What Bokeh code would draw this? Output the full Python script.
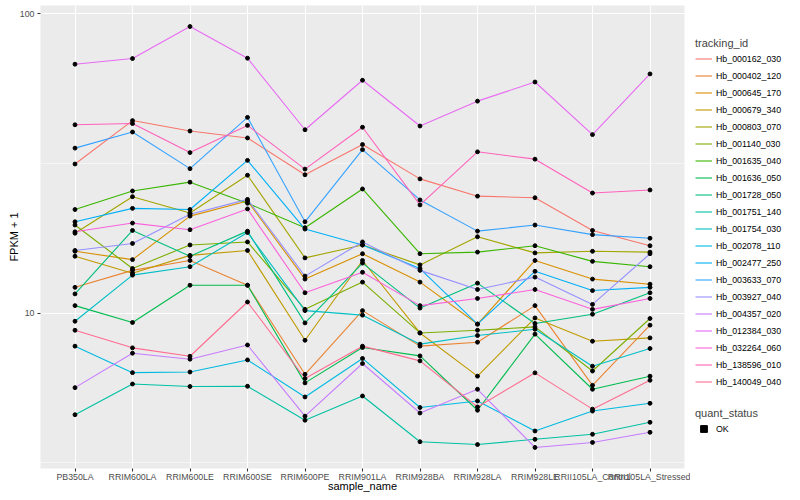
import numpy as np
from bokeh.plotting import figure
from bokeh.models import (FactorRange, Range1d, FixedTicker, Legend, LegendItem)
from bokeh.layouts import row
from bokeh.embed import file_html
from bokeh.resources import INLINE

# ---------------- data (FPKM + 1) ----------------
samples = ["PB350LA", "RRIM600LA", "RRIM600LE", "RRIM600SE", "RRIM600PE",
           "RRIM901LA", "RRIM928BA", "RRIM928LA", "RRIM928LE",
           "RRII105LA_Control", "RRII105LA_Stressed"]

tracking_ids = ["Hb_000162_030", "Hb_000402_120", "Hb_000645_170", "Hb_000679_340",
                "Hb_000803_070", "Hb_001140_030", "Hb_001635_040", "Hb_001636_050",
                "Hb_001728_050", "Hb_001751_140", "Hb_001754_030", "Hb_002078_110",
                "Hb_002477_250", "Hb_003633_070", "Hb_003927_040", "Hb_004357_020",
                "Hb_012384_030", "Hb_032264_060", "Hb_138596_010", "Hb_140049_040"]

Hb_000162_030 = [31.5, 44.0, 40.6, 38.5, 29.0, 36.6, 28.1, 24.6, 24.3, 18.9, 16.8]
Hb_000402_120 = [12.2, 13.9, 15.0, 12.4, 6.25, 10.2, 7.76, 8.0, 10.6, 5.74, 9.12]
Hb_000645_170 = [16.1, 15.1, 21.1, 23.7, 13.0, 15.8, 12.7, 9.2, 15.0, 13.0, 12.5]
Hb_000679_340 = [15.5, 13.6, 15.6, 16.2, 8.12, 15.0, 8.59, 6.16, 9.64, 8.06, 8.27]
Hb_000803_070 = [18.5, 24.5, 21.6, 28.9, 15.3, 16.9, 14.5, 18.0, 15.9, 16.1, 16.0]
Hb_001140_030 = [19.7, 14.1, 16.9, 17.3, 10.3, 12.7, 8.59, 8.77, 9.0, 6.41, 9.6]
Hb_001635_040 = [22.2, 25.6, 27.4, 23.3, 19.3, 26.0, 15.8, 16.0, 16.8, 14.9, 14.3]
Hb_001636_050 = [10.6, 9.31, 12.4, 12.4, 5.85, 7.68, 7.20, 4.74, 8.51, 5.57, 6.16]
Hb_001728_050 = [11.6, 18.9, 15.5, 18.8, 9.28, 14.7, 10.4, 12.6, 9.24, 9.92, 11.7]
Hb_001751_140 = [4.58, 5.80, 5.69, 5.70, 4.39, 5.29, 3.72, 3.64, 3.79, 3.94, 4.32]
Hb_001754_030 = [9.40, 13.4, 14.3, 18.6, 10.2, 9.85, 7.88, 8.42, 8.84, 6.65, 7.62]
Hb_002078_110 = [7.76, 6.33, 6.36, 6.98, 5.25, 7.06, 4.84, 5.09, 4.04, 4.71, 5.0]
Hb_002477_250 = [20.2, 22.4, 22.2, 32.4, 19.1, 16.9, 14.1, 9.19, 13.8, 11.9, 12.2]
Hb_003633_070 = [35.6, 40.3, 30.4, 45.1, 20.2, 35.2, 23.9, 18.8, 19.7, 18.3, 17.8]
Hb_003927_040 = [16.2, 17.1, 21.4, 24.0, 13.3, 17.3, 13.9, 12.0, 13.2, 10.7, 15.8]
Hb_004357_020 = [5.64, 7.35, 7.02, 7.83, 4.53, 6.79, 4.64, 5.57, 3.56, 3.70, 4.0]
Hb_012384_030 = [67.9, 70.9, 90.7, 71.1, 41.0, 60.0, 42.2, 51.1, 59.2, 39.5, 63.0]
Hb_032264_060 = [18.7, 20.0, 19.0, 22.3, 11.7, 13.7, 10.6, 11.2, 12.0, 10.3, 11.2]
Hb_138596_010 = [42.6, 43.0, 34.4, 42.4, 30.3, 41.8, 23.0, 34.6, 32.7, 25.2, 25.8]
Hb_140049_040 = [8.77, 7.66, 7.18, 10.9, 6.05, 7.76, 6.93, 4.86, 6.32, 4.78, 5.97]

series = [Hb_000162_030, Hb_000402_120, Hb_000645_170, Hb_000679_340, Hb_000803_070,
          Hb_001140_030, Hb_001635_040, Hb_001636_050, Hb_001728_050, Hb_001751_140,
          Hb_001754_030, Hb_002078_110, Hb_002477_250, Hb_003633_070, Hb_003927_040,
          Hb_004357_020, Hb_012384_030, Hb_032264_060, Hb_138596_010, Hb_140049_040]

quant_status = ["OK"]
y_ticks = [10, 100]
y_tick_labels = ["10", "100"]

palette = ["#F8766D", "#EA8331", "#D89000", "#C09B00", "#A3A500", "#7CAE00", "#39B600",
           "#00BB4E", "#00BF7D", "#00C1A3", "#00BFC4", "#00BAE0", "#00B0F6", "#35A2FF",
           "#9590FF", "#C77CFF", "#E76BF3", "#FA62DB", "#FF62BC", "#FF6C91"]

FONT = "Liberation Sans"
TOP, BOTTOM = 5, 32

# ---------------- scales ----------------
all_vals = np.concatenate([np.asarray(s, dtype=float) for s in series])
lo, hi = np.log10(all_vals.min()), np.log10(all_vals.max())
pad = 0.05 * (hi - lo)
y_range = Range1d(10 ** (lo - pad), 10 ** (hi + pad))
x_range = FactorRange(factors=samples, range_padding=0.1, range_padding_units="absolute")

# ---------------- main figure ----------------
p = figure(width=690, height=500, x_range=x_range, y_range=y_range, y_axis_type="log",
           output_backend="svg", toolbar_location=None,
           min_border_left=40, min_border_right=6, min_border_top=TOP,
           min_border_bottom=BOTTOM,
           background_fill_color="#EBEBEB", border_fill_color="white",
           outline_line_color=None)

for name, vals, col in zip(tracking_ids, series, palette):
    p.line(x=samples, y=vals, line_color=col, line_width=1.1)

xs = [s for vals in series for s in samples]
ys = [v for vals in series for v in vals]
p.scatter(x=xs, y=ys, marker="circle", size=3.9, fill_color="black", line_color="black")

minor = [10 ** (np.log10(t) - 0.5) for t in y_ticks]
p.yaxis.ticker = FixedTicker(ticks=y_ticks, minor_ticks=minor)
p.yaxis.major_label_overrides = {t: l for t, l in zip(y_ticks, y_tick_labels)}
p.ygrid.ticker = FixedTicker(ticks=y_ticks, minor_ticks=minor)

p.grid.grid_line_color = "white"
p.grid.grid_line_width = 1.07
p.ygrid.minor_grid_line_color = "white"
p.ygrid.minor_grid_line_width = 0.53

for ax in (p.xaxis[0], p.yaxis[0]):
    ax.axis_line_color = None
    ax.major_tick_line_color = "#333333"
    ax.major_tick_line_width = 1.07
    ax.major_tick_in = 0
    ax.major_tick_out = 3
    ax.minor_tick_line_color = None
    ax.major_label_text_font = FONT
    ax.major_label_text_font_size = "8.8px"
    ax.major_label_text_color = "#4D4D4D"
    ax.axis_label_text_font = FONT
    ax.axis_label_text_font_size = "11px"
    ax.axis_label_text_font_style = "normal"
    ax.axis_label_text_color = "black"

p.yaxis.major_label_standoff = 2
p.yaxis.axis_label_standoff = -3
p.xaxis.major_label_standoff = 0
p.xaxis.axis_label_standoff = -5
p.xaxis.axis_label = "sample_name"
p.yaxis.axis_label = "FPKM + 1"

# ---------------- legend panel ----------------
lg = figure(width=110, height=500, x_range=Range1d(0, 1), y_range=Range1d(0, 1),
            x_axis_type=None, y_axis_type=None,
            output_backend="svg", toolbar_location=None,
            min_border_left=0, min_border_right=0, min_border_top=TOP,
            min_border_bottom=BOTTOM,
            background_fill_color="white", border_fill_color="white",
            outline_line_color=None)
lg.grid.visible = False

items = []
for name, col in zip(tracking_ids, palette):
    # swatch renderer: data lies outside the legend panel's ranges, so only the key shows
    r = lg.line(x=[2, 3], y=[2, 3], line_color=col, line_width=1.1)
    items.append(LegendItem(label=name, renderers=[r]))

rs = lg.scatter(x=[2], y=[2], marker="square", size=4, fill_color="black",
                line_color="black")
items2 = [LegendItem(label=quant_status[0], renderers=[rs])]


def style(leg, standoff):
    leg.margin = 0
    leg.padding = 6
    leg.spacing = 0
    leg.label_height = 17
    leg.glyph_height = 17
    leg.glyph_width = 17
    leg.label_standoff = 4
    leg.label_text_font = FONT
    leg.label_text_font_size = "8.8px"
    leg.label_text_color = "black"
    leg.title_text_font = FONT
    leg.title_text_font_size = "11px"
    leg.title_text_font_style = "normal"
    leg.title_standoff = standoff
    leg.border_line_color = None
    leg.background_fill_alpha = 0


leg1 = Legend(items=items, title="tracking_id", location=(5, 78))
style(leg1, 1)
lg.add_layout(leg1, "center")

leg2 = Legend(items=items2, title="quant_status", location=(5, 31))
style(leg2, 1)
lg.add_layout(leg2, "center")

layout = row(p, lg)
open("out.html", "w").write(file_html(layout, INLINE))
